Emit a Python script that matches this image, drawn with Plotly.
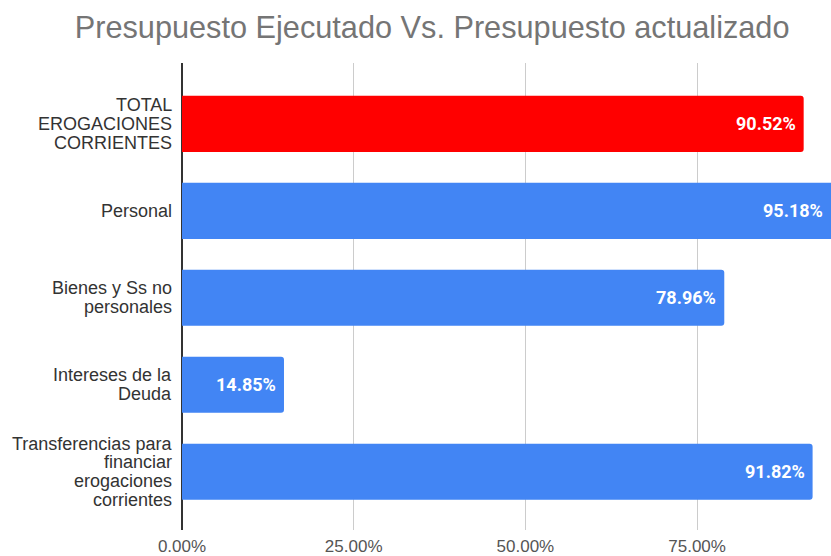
import plotly.graph_objects as go

categories = [
    "TOTAL<br>EROGACIONES<br>CORRIENTES",
    "Personal",
    "Bienes y Ss no<br>personales",
    "Intereses de la<br>Deuda",
    "Transferencias para<br>financiar<br>erogaciones<br>corrientes",
]
values = [0.9052, 0.9518, 0.7896, 0.1485, 0.9182]
bar_colors = ["#ff0000", "#4285f4", "#4285f4", "#4285f4", "#4285f4"]
tick_vals = [0, 0.25, 0.5, 0.75]
tick_text = ["0.00%", "25.00%", "50.00%", "75.00%"]

X_MAX = 0.945
LINE_H = 18.7

fig = go.Figure(go.Bar(
    x=values, y=categories, orientation="h",
    marker=dict(color=bar_colors, line_width=0, cornerradius=3),
    width=0.645,
    cliponaxis=True,
    hoverinfo="skip",
))

annotations = []
# bar value labels, kept inside the visible plot area
for cat, v in zip(categories, values):
    annotations.append(dict(
        x=min(v, X_MAX), y=cat, xref="x", yref="y",
        text=f"{v * 100:.2f}%", showarrow=False,
        xanchor="right", yanchor="middle", xshift=-6,
        font=dict(family="Roboto", size=18, color="white", weight="bold"),
    ))

# category labels, one annotation per line for tight line spacing
for cat in categories:
    lines = cat.split("<br>")
    n = len(lines)
    for i, line in enumerate(lines):
        annotations.append(dict(
            x=0, y=cat, xref="paper", yref="y",
            text=line, showarrow=False,
            xanchor="right", yanchor="middle", xshift=-8,
            yshift=((n - 1) / 2 - i) * LINE_H,
            font=dict(family="Liberation Sans, Arial", size=18, color="#333333"),
        ))

fig.update_layout(
    template="none",
    width=831, height=556,
    margin=dict(l=182, r=0, t=63, b=26),
    paper_bgcolor="white",
    plot_bgcolor="white",
    showlegend=False,
    title=dict(
        text="Presupuesto Ejecutado Vs. Presupuesto actualizado",
        x=0.52, xanchor="center", y=0.951, yanchor="middle",
        font=dict(family="Liberation Sans, Arial", size=30.7, color="#757575"),
    ),
    annotations=annotations,
    xaxis=dict(
        range=[0, X_MAX],
        tickvals=tick_vals, ticktext=tick_text,
        showgrid=True, gridcolor="#cccccc", gridwidth=1,
        zeroline=True, zerolinecolor="#333333", zerolinewidth=1.5,
        showline=False, ticks="",
        tickfont=dict(family="Liberation Sans, Arial", size=17, color="#555555"),
        automargin=False, ticklabelstandoff=4,
        fixedrange=True,
    ),
    yaxis=dict(
        type="category",
        range=[4.67, -0.70],
        showticklabels=False, showgrid=False, zeroline=False,
        showline=False, ticks="",
        automargin=False, fixedrange=True,
    ),
)

# drop the default body margin so the figure fills the window exactly
fig.write_html(
    "out.html",
    config={"displayModeBar": False},
    post_script="document.body.style.margin='0';document.body.style.overflow='hidden';",
)
